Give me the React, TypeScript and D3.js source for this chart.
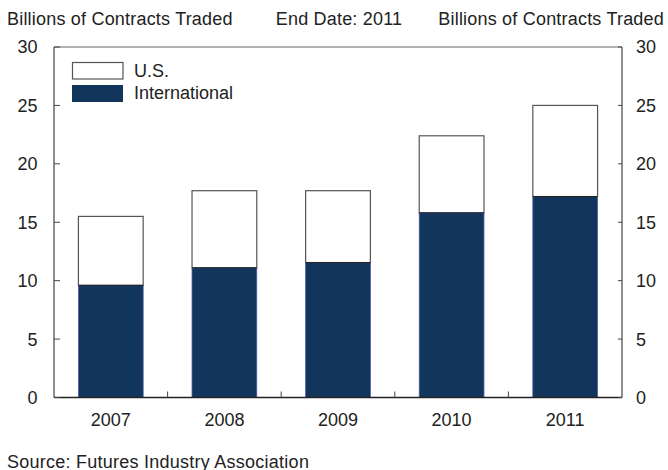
import React from "react";
import * as d3 from "d3";

const years = ["2007", "2008", "2009", "2010", "2011"];
const international = [9.6, 11.1, 11.55, 15.8, 17.2];
const total = [15.5, 17.7, 17.7, 22.4, 25.0];
const yTicks = [0, 5, 10, 15, 20, 25, 30];

const W = 668;
const H = 470;
const M = { left: 54, right: 622, top: 47, bottom: 397.5 };
const NAVY = "#12355b";
const AXIS = "#444";
const FONT = "'Liberation Sans', Arial, sans-serif";
const FS = 18;

export default function App() {
  const x = d3.scaleBand<string>().domain(years).range([M.left, M.right]).paddingInner(0.43).paddingOuter(0.215);
  const xb = d3.scaleBand<string>().domain(years).range([M.left, M.right]);
  const y = d3.scaleLinear().domain([0, 30]).range([M.bottom, M.top]);

  return (
    <div style={{ position: "absolute", left: 0, top: 0 }}>
      <svg width={W} height={H} style={{ display: "block", background: "#fff" }} fontFamily={FONT}>
        <text x={7} y={24.5} fontSize={FS} letterSpacing={0.2} fill="#222">Billions of Contracts Traded</text>
        <text x={339} y={24.5} fontSize={FS} letterSpacing={0.2} fill="#222" textAnchor="middle">End Date: 2011</text>
        <text x={664} y={24.5} fontSize={FS} letterSpacing={0.2} fill="#222" textAnchor="end">Billions of Contracts Traded</text>

        {years.map((yr, i) => {
          const bx = x(yr)!;
          const bw = x.bandwidth();
          return (
            <g key={yr}>
              <rect x={bx} y={y(total[i])} width={bw} height={y(international[i]) - y(total[i])} fill="#fff" stroke="#555" strokeWidth={1.2} />
              <rect x={bx} y={y(international[i])} width={bw} height={y(0) - y(international[i])} fill={NAVY} stroke="#4f5aa8" strokeWidth={0.8} />
              <line x1={bx} x2={bx + bw} y1={y(international[i])} y2={y(international[i])} stroke="#222" strokeWidth={1} />
            </g>
          );
        })}

        {/* frame */}
        <line x1={M.left} x2={M.right} y1={M.top} y2={M.top} stroke="#666" strokeWidth={1.2} />
        <line x1={M.left} x2={M.left} y1={M.top} y2={M.bottom} stroke={AXIS} strokeWidth={1.2} />
        <line x1={M.right} x2={M.right} y1={M.top} y2={M.bottom} stroke={AXIS} strokeWidth={1.2} />
        <line x1={M.left} x2={M.right} y1={M.bottom} y2={M.bottom} stroke="#222" strokeWidth={1.5} />

        {yTicks.map((t) => (
          <g key={t}>
            <line x1={M.left} x2={M.left + 6} y1={y(t)} y2={y(t)} stroke={AXIS} strokeWidth={1} />
            <line x1={M.right - 4} x2={M.right} y1={y(t)} y2={y(t)} stroke={AXIS} strokeWidth={1} />
            <text x={37.5} y={y(t)} dy="0.36em" fontSize={FS} fill="#222" textAnchor="end">{t}</text>
            <text x={636} y={y(t)} dy="0.36em" fontSize={FS} fill="#222" textAnchor="start">{t}</text>
          </g>
        ))}

        {years.slice(1).map((yr) => (
          <line key={yr} x1={xb(yr)!} x2={xb(yr)!} y1={M.bottom} y2={M.bottom - 6} stroke={AXIS} strokeWidth={1} />
        ))}
        {years.map((yr) => (
          <text key={yr} x={xb(yr)! + xb.bandwidth() / 2} y={426} fontSize={FS} fill="#222" textAnchor="middle">{yr}</text>
        ))}

        {/* legend */}
        <rect x={72.5} y={62.5} width={50.5} height={16.5} fill="#fff" stroke="#555" strokeWidth={1.2} />
        <text x={134} y={77} fontSize={FS} fill="#222">U.S.</text>
        <rect x={72} y={85} width={51} height={17} fill={NAVY} />
        <text x={134} y={99} fontSize={FS} fill="#222">International</text>

        <text x={7} y={467.5} fontSize={FS} letterSpacing={0.25} fill="#222">Source: Futures Industry Association</text>
      </svg>
    </div>
  );
}
